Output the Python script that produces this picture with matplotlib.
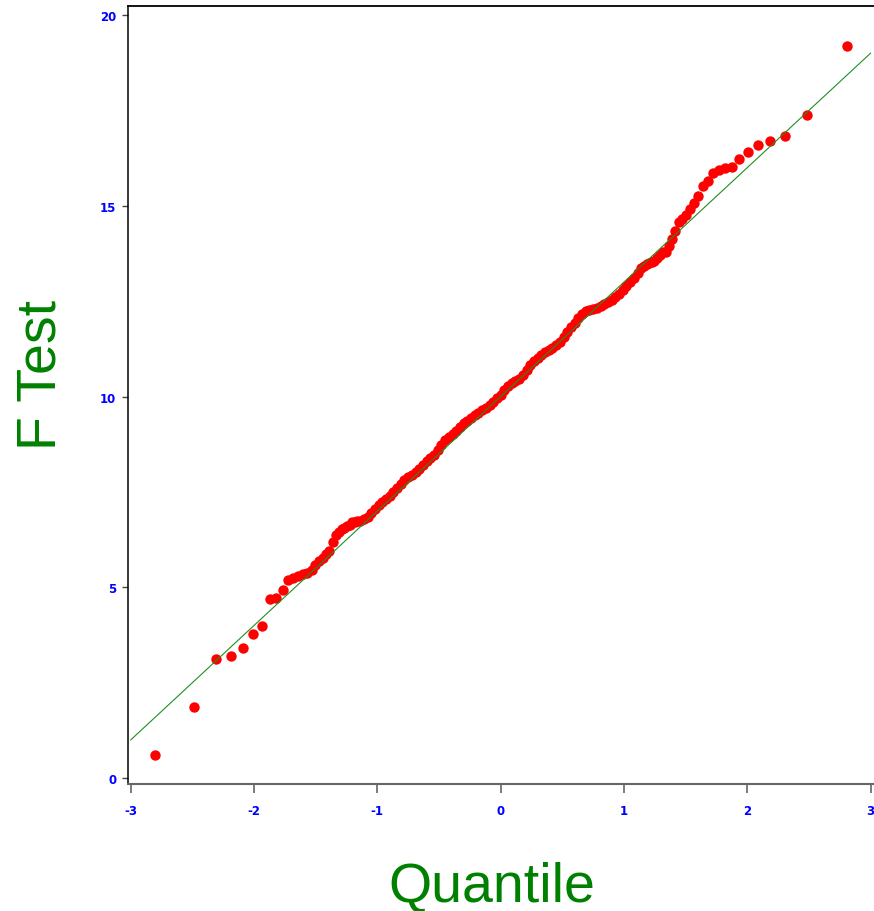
import matplotlib
matplotlib.use("Agg")
import matplotlib.pyplot as plt

# ---- data ----
x_lower = [-2.807, -2.484, -2.308, -2.184, -2.086, -2.005, -1.935, -1.874, -1.819, -1.769,
           -1.723, -1.681, -1.641, -1.603, -1.568, -1.534, -1.502, -1.472, -1.443, -1.415,
           -1.389, -1.363, -1.338, -1.314, -1.290, -1.268, -1.246, -1.225, -1.204, -1.184,
           -1.164]
y_lower = [0.60, 1.85, 3.13, 3.20, 3.40, 3.78, 3.99, 4.70, 4.72, 4.94,
           5.18, 5.24, 5.30, 5.34, 5.37, 5.45, 5.58, 5.68, 5.78, 5.86,
           5.95, 6.20, 6.36, 6.45, 6.53, 6.56, 6.60, 6.64, 6.70, 6.72,
           6.73]

x_middle = [-1.14, -1.11, -1.08, -1.05, -1.02, -0.99, -0.96, -0.93, -0.90, -0.87,
            -0.84, -0.81, -0.78, -0.75, -0.72, -0.69, -0.66, -0.63, -0.60, -0.57,
            -0.54, -0.51, -0.48, -0.45, -0.42, -0.39, -0.36, -0.33, -0.30, -0.27,
            -0.24, -0.21, -0.18, -0.15, -0.12, -0.09, -0.06, -0.03, 0.00, 0.03,
            0.06, 0.09, 0.12, 0.15, 0.18, 0.21, 0.24, 0.27, 0.30, 0.33,
            0.36, 0.39, 0.42, 0.45, 0.48, 0.51, 0.54, 0.57, 0.60, 0.63,
            0.66, 0.69, 0.72, 0.75, 0.78, 0.81, 0.84, 0.87, 0.90, 0.93,
            0.96, 0.99, 1.02, 1.05, 1.08, 1.11, 1.14]
y_middle = [6.75, 6.79, 6.85, 6.95, 7.06, 7.16, 7.24, 7.31, 7.40, 7.49,
            7.60, 7.72, 7.82, 7.89, 7.94, 8.01, 8.10, 8.20, 8.30, 8.39,
            8.48, 8.59, 8.72, 8.85, 8.94, 9.01, 9.10, 9.21, 9.30, 9.36,
            9.43, 9.51, 9.58, 9.65, 9.70, 9.77, 9.87, 9.97, 10.05, 10.17,
            10.28, 10.35, 10.40, 10.45, 10.56, 10.69, 10.82, 10.93, 11.02, 11.09,
            11.16, 11.22, 11.28, 11.35, 11.43, 11.55, 11.68, 11.81, 11.94, 12.07,
            12.17, 12.24, 12.28, 12.30, 12.32, 12.37, 12.42, 12.47, 12.54, 12.61,
            12.70, 12.80, 12.90, 13.00, 13.12, 13.25, 13.36]

x_upper = [1.164, 1.184, 1.204, 1.225, 1.246, 1.268, 1.290, 1.314, 1.338, 1.363,
           1.389, 1.415, 1.443, 1.472, 1.502, 1.534, 1.568, 1.603, 1.641, 1.681,
           1.723, 1.769, 1.819, 1.874, 1.935, 2.005, 2.086, 2.184, 2.308, 2.484,
           2.807]
y_upper = [13.43, 13.47, 13.50, 13.52, 13.56, 13.62, 13.72, 13.78, 13.80, 13.95,
           14.13, 14.35, 14.57, 14.66, 14.76, 14.92, 15.08, 15.25, 15.51, 15.66,
           15.86, 15.93, 15.99, 16.02, 16.23, 16.41, 16.60, 16.71, 16.83, 17.39,
           19.19]

ref_line_x = [-3.0, 3.0]
ref_line_y = [1.0, 19.0]

x_ticks = [-3, -2, -1, 0, 1, 2, 3]
y_ticks = [0, 5, 10, 15, 20]
x_label = "Quantile"
y_label = "F Test"

quantile = x_lower + x_middle + x_upper
ftest = y_lower + y_middle + y_upper

# ---- figure ----
plt.rcParams['axes.unicode_minus'] = False
fig = plt.figure(figsize=(8.74, 9.12), dpi=100)
W, H = 874, 912
ax_l, ax_r, ax_t, ax_b = 127.7, 874.0, 7.3, 785.0
ax = fig.add_axes([ax_l / W, 1 - ax_b / H, (ax_r - ax_l) / W, (ax_b - ax_t) / H])

ax.scatter(quantile, ftest, s=56, c='#ff0000', linewidths=0, zorder=2)
ax.plot(ref_line_x, ref_line_y, color='#1f8f1f', lw=0.8, zorder=3)

ax.set_xlim(-3.025, 3.028)
ax.set_ylim(-0.157, 20.23)
ax.set_xticks(x_ticks)
ax.set_yticks(y_ticks)

for lab in ax.get_xticklabels() + ax.get_yticklabels():
    lab.set_fontweight('bold')
    lab.set_color('#0000ff')
    lab.set_fontsize(8.5)
    lab.set_family('DejaVu Sans')

ax.spines['right'].set_visible(False)
ax.spines['left'].set_color('black')
ax.spines['left'].set_linewidth(1.1)
ax.spines['top'].set_color('black')
ax.spines['top'].set_linewidth(1.3)
ax.spines['bottom'].set_color('#666666')
ax.spines['bottom'].set_linewidth(1.5)

ax.tick_params(axis='y', direction='out', length=4.3, width=1.0, color='#444444', pad=4)
ax.tick_params(axis='x', direction='out', length=6.5, width=1.2, color='#666666', pad=8)

fig.text(492 / W, 1 - 901 / H, x_label, color='#008000', fontsize=40,
         family='Liberation Sans', ha='center', va='baseline')
fig.text(55 / W, 1 - 375 / H, y_label, color='#008000', fontsize=40,
         family='Liberation Sans', ha='center', va='baseline', rotation=90,
         rotation_mode='anchor')

fig.savefig('out.png', dpi=100)
